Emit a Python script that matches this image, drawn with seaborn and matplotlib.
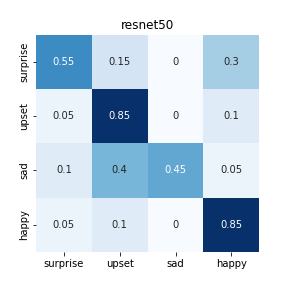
import numpy as np
import pandas as pd
import matplotlib
matplotlib.use("Agg")
import matplotlib.pyplot as plt
import seaborn as sns

labels = ['surprise', 'upset', 'sad', 'happy']
row_surprise = [0.55, 0.15, 0, 0.3]
row_upset = [0.05, 0.85, 0, 0.1]
row_sad = [0.1, 0.4, 0.45, 0.05]
row_happy = [0.05, 0.1, 0, 0.85]

cm = pd.DataFrame([row_surprise, row_upset, row_sad, row_happy],
                  index=labels, columns=labels)

plt.figure(figsize=(4, 4), dpi=72)
sns.heatmap(cm, annot=True, cmap='Blues', cbar=False)
plt.title('resnet50')
plt.subplots_adjust(bottom=0.125)
plt.savefig('out.png', dpi=72)
